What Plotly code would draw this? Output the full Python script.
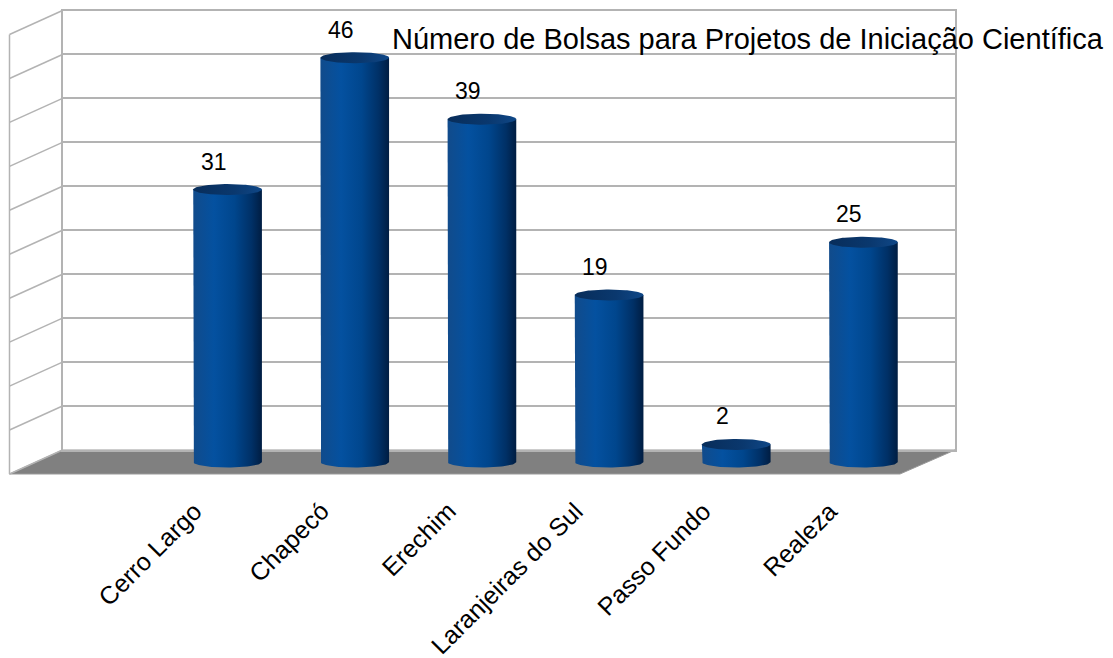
import numpy as np
import plotly.graph_objects as go

# ---- data ----
categories = ["Cerro Largo", "Chapecó", "Erechim", "Laranjeiras do Sul", "Passo Fundo", "Realeza"]
values = [31, 46, 39, 19, 2, 25]
y_ticks = list(range(0, 55, 5))
title_text = "Número de Bolsas para Projetos de Iniciação Científica"

# ---- geometry (window pixels) ----
WIN_W, WIN_H = 1113, 658
OFF = 8  # page body margin
W, H = WIN_W - OFF, WIN_H - OFF
BACK_L, BACK_R = 62.5, 955.0
BACK_Y0, BACK_TOP = 450.0, 10.5
YMAX = 50
DEPTH_X, DEPTH_Y = -53.0, 24.0
BAR_L, BAR_R = 164.0, 927.0
YMIN2 = -3

ppu = (BACK_Y0 - BACK_TOP) / YMAX
bar_zero = BACK_Y0 + DEPTH_Y / 2
bar_top = BACK_TOP + DEPTH_Y / 2


def fx(px):
    return (px - OFF) / W


def fy(py):
    return 1 - (py - OFF) / H


def back_px(v):
    return BACK_Y0 - v * ppu


FONT = "Liberation Sans, Arial, sans-serif"
GRID = "#b3b3b3"

fig = go.Figure()
# invisible trace to materialise the back-wall subplot
fig.add_trace(go.Scatter(x=[0, 1], y=[0, 0], mode="none", showlegend=False,
                         hoverinfo="skip", xaxis="x", yaxis="y"))

w = 0.27
b = 5.5 / ppu
t = np.linspace(0, np.pi, 50)
tt = np.linspace(0, 2 * np.pi, 100)
body_scale = [[0, "#114b8b"], [0.3, "#0451a0"], [0.6, "#00468d"],
              [0.85, "#003066"], [1, "#001d42"]]
cap_scale = [[0, "#082d5a"], [0.6, "#0a386e"], [1, "#0f4787"]]

for i, v in enumerate(values):
    xs = [i - w] + list(i - w * np.cos(t)) + [i + w, i - w]
    ys = [v] + list(-b * np.sin(t)) + [v, v]
    fig.add_trace(go.Scatter(x=xs, y=ys, mode="lines", fill="toself",
                             line=dict(width=0),
                             fillgradient=dict(type="horizontal", colorscale=body_scale),
                             showlegend=False, hoverinfo="skip",
                             xaxis="x2", yaxis="y2"))
    fig.add_trace(go.Scatter(x=i + w * np.cos(tt), y=v + b * np.sin(tt), mode="lines",
                             fill="toself", line=dict(width=0),
                             fillgradient=dict(type="horizontal", colorscale=cap_scale),
                             showlegend=False, hoverinfo="skip",
                             xaxis="x2", yaxis="y2"))

shapes = []
# floor
shapes.append(dict(type="path", xref="paper", yref="paper", layer="below",
                   path=f"M {fx(BACK_L)},{fy(BACK_Y0)} L {fx(BACK_R)},{fy(BACK_Y0)} "
                        f"L {fx(BACK_R - 55)},{fy(BACK_Y0 + DEPTH_Y)} "
                        f"L {fx(BACK_L + DEPTH_X)},{fy(BACK_Y0 + DEPTH_Y)} Z",
                   fillcolor="#808080", line=dict(color="#9a9a9a", width=1)))
# left wall lines
for v in y_ticks:
    y = back_px(v)
    shapes.append(dict(type="line", xref="paper", yref="paper", layer="below",
                       x0=fx(BACK_L), y0=fy(y), x1=fx(BACK_L + DEPTH_X), y1=fy(y + DEPTH_Y),
                       line=dict(color=GRID, width=1.5)))
shapes.append(dict(type="line", xref="paper", yref="paper", layer="below",
                   x0=fx(BACK_L + DEPTH_X), y0=fy(BACK_TOP + DEPTH_Y),
                   x1=fx(BACK_L + DEPTH_X), y1=fy(BACK_Y0 + DEPTH_Y),
                   line=dict(color=GRID, width=1.5)))

annotations = []
for i, v in enumerate(values):
    annotations.append(dict(x=i, y=v, xref="x2", yref="y2", text=str(v), showarrow=False,
                            xshift=-14, yshift=28,
                            font=dict(family=FONT, size=23, color="black")))
for i, c in enumerate(categories):
    annotations.append(dict(x=i, y=0, xref="x2", yref="y2", text=c, showarrow=False,
                            textangle=-45, xanchor="right", yanchor="top",
                            xshift=-18, yshift=-32,
                            font=dict(family=FONT, size=25, color="black")))
annotations.append(dict(x=fx(747.5), y=fy(39.5), xref="paper", yref="paper", text=title_text,
                        showarrow=False, xanchor="center", yanchor="middle",
                        font=dict(family=FONT, size=29, color="black")))

fig.update_layout(
    width=W, height=H,
    margin=dict(l=0, r=0, t=0, b=0),
    paper_bgcolor="white", plot_bgcolor="rgba(0,0,0,0)",
    showlegend=False,
    xaxis=dict(domain=[fx(BACK_L), fx(BACK_R)], range=[0, 1], showgrid=False,
               zeroline=False, showticklabels=False, ticks="", showline=True,
               mirror=True, linecolor=GRID, linewidth=1.5, fixedrange=True),
    yaxis=dict(domain=[fy(BACK_Y0), fy(BACK_TOP)], range=[0, YMAX], tickvals=y_ticks,
               showgrid=True, gridcolor=GRID, gridwidth=1.5, zeroline=False,
               showticklabels=False, ticks="", showline=True, mirror=True,
               linecolor=GRID, linewidth=1.5, fixedrange=True),
    xaxis2=dict(domain=[fx(BAR_L), fx(BAR_R)], range=[-0.5, len(categories) - 0.5],
                visible=False, anchor="y2", fixedrange=True),
    yaxis2=dict(domain=[fy(bar_zero - YMIN2 * ppu), fy(bar_top)], range=[YMIN2, YMAX],
                visible=False, anchor="x2", fixedrange=True),
    shapes=shapes,
    annotations=annotations,
)

fig.write_html("out.html")
